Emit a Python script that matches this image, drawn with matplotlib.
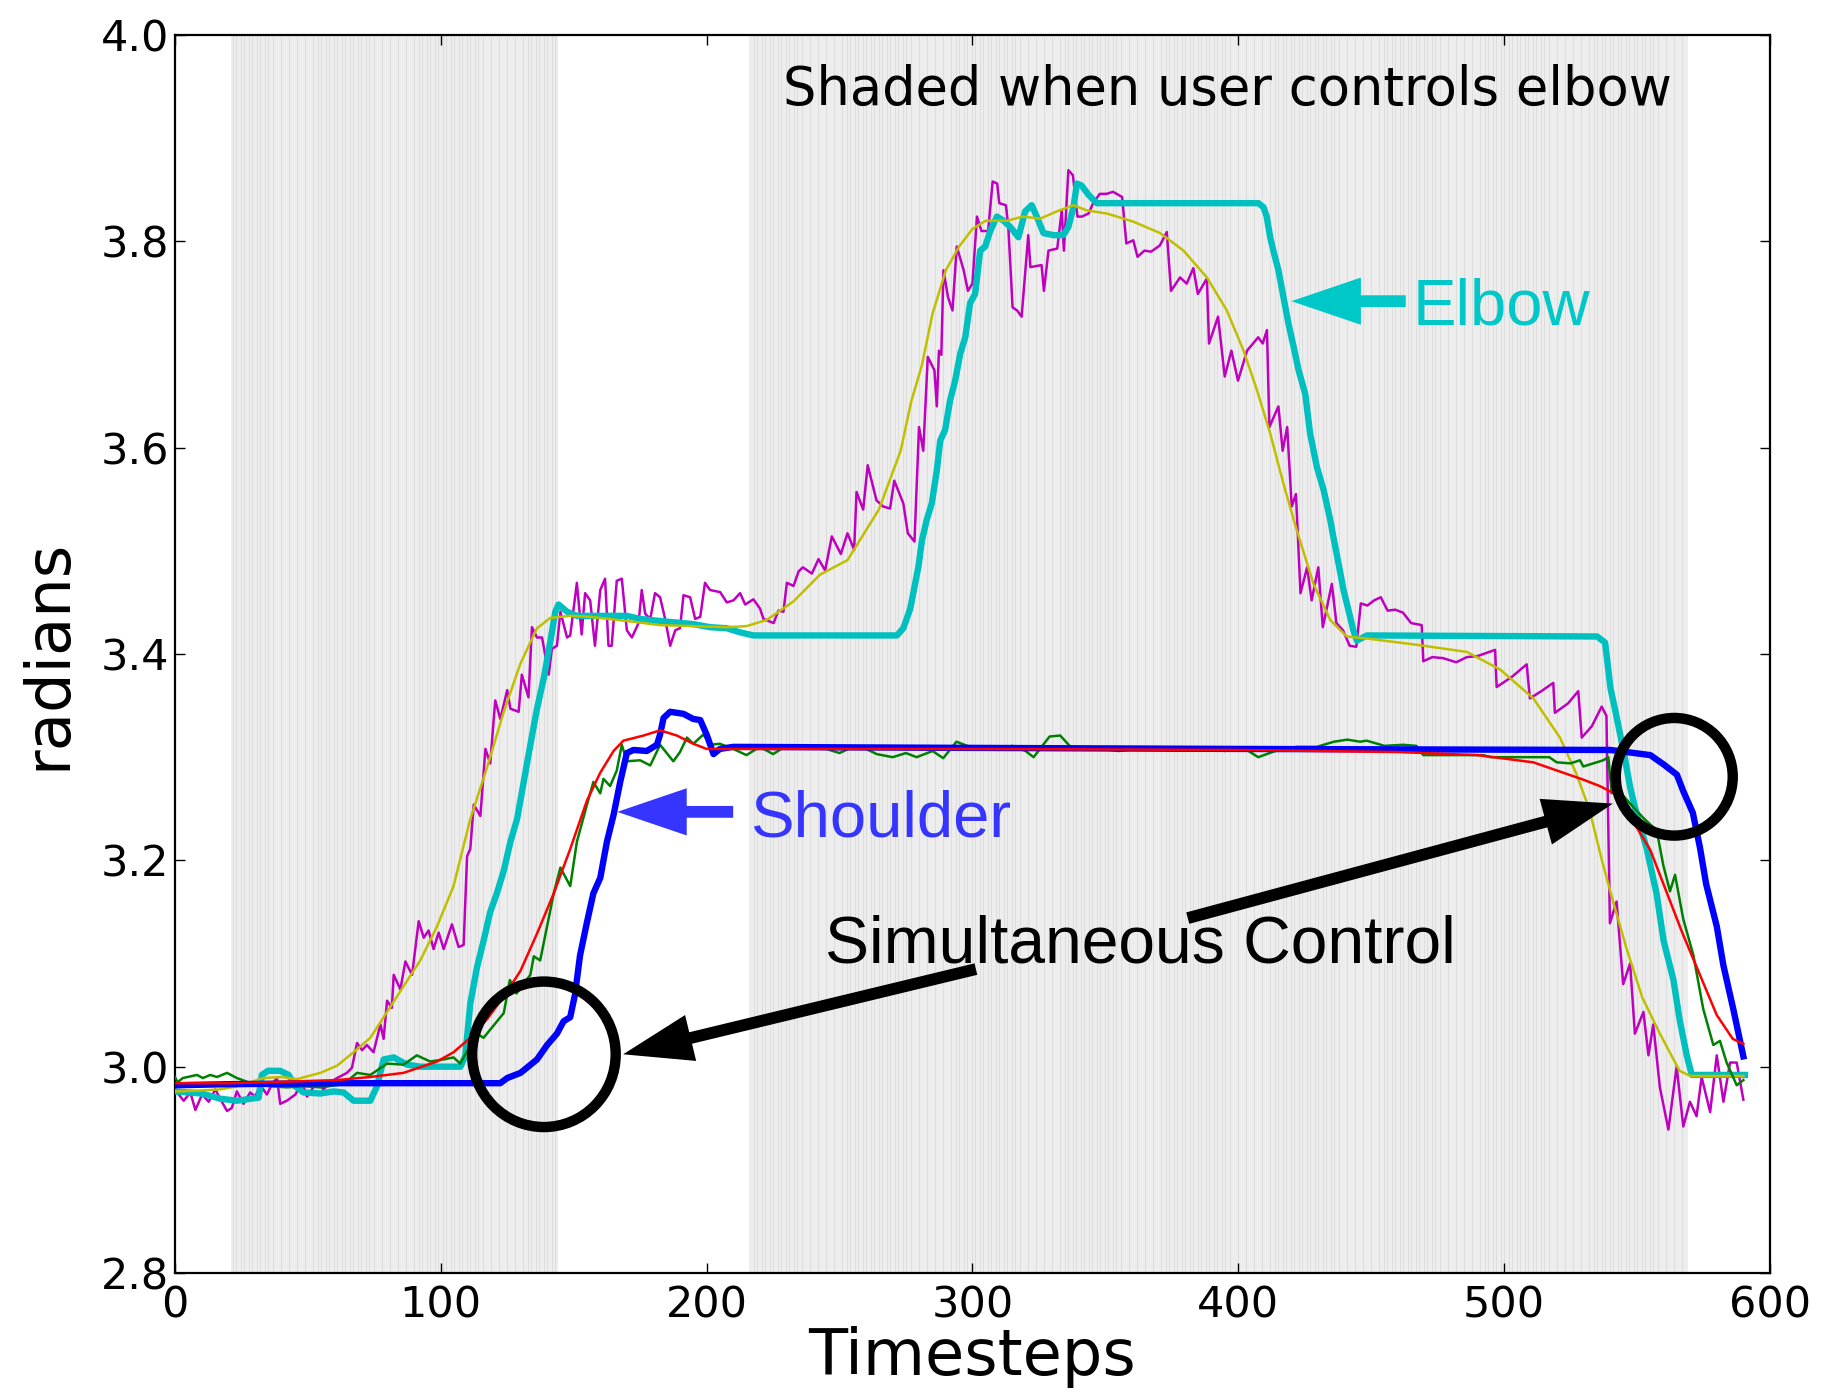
import numpy as np
import matplotlib
matplotlib.use("Agg")
import matplotlib.pyplot as plt
from matplotlib.patches import FancyArrowPatch, Ellipse

# timesteps where the user controls the elbow (shaded)
shade_start = [21, 216]
shade_end = [144, 569]

# elbow, noisy measured (magenta)
elbow_noisy_t = [0.8, 3.3, 5.8, 7.7, 10.2, 12.7, 15.2, 17, 19.6, 21.4, 23.3, 25.8, 28.3, 30.2, 32.1, 34.6, 36.5, 38.4, 39.6, 42.1,
                 45.3, 47.8, 49.7, 53.4, 55.9, 58.4, 61, 64.7, 66.6, 68.5, 70.4, 72.2, 74.7, 77.3, 78.5, 79.8, 81.6, 82.3, 84.8, 86.7,
                 89.2, 91.7, 93.6, 95.4, 97.3, 99.2, 101.1, 104.2, 106.7, 108.6, 109.9, 111.1, 112.4, 114.9, 116.8, 118.6, 120.5, 122.4, 125, 126.2,
                 129.3, 130.5, 133, 134.3, 136.2, 138.1, 140.6, 141.8, 143.7, 145, 147.5, 148.7, 151.2, 153, 154.3, 156.2, 158, 160, 161.8, 163.1,
                 164.3, 166.2, 168.1, 170, 171.9, 174.4, 175.6, 176.9, 178.8, 180.6, 182.5, 184.4, 186.3, 188.2, 190, 191.3, 193.8, 195.7, 197.6, 199.4,
                 201.3, 205.1, 207.6, 210.1, 212.6, 214.5, 217.6, 220.1, 221.4, 225.2, 227, 228.9, 230.2, 232.7, 234.6, 236.2, 239.6, 242.1, 244.6, 247.1,
                 250.5, 253, 255.5, 256.4, 258.9, 260.6, 263.9, 266.4, 269, 270.6, 274, 275.7, 278.2, 279.9, 281.5, 283.2, 285.7, 286.6, 287.4, 288.3,
                 289.1, 290.8, 292.5, 294.1, 296.7, 298.3, 300, 301.7, 303.4, 305.9, 307.6, 309.3, 310.1, 312.6, 313.5, 315.1, 316.8, 318.5, 321, 321.8,
                 326, 326.9, 328.6, 331.9, 333.6, 334.4, 336.1, 337.8, 339.5, 341.2, 343.7, 345.4, 347.9, 350.4, 352.9, 356.3, 357.9, 360.5, 362.1, 364.7,
                 367.2, 370.5, 373.1, 374.7, 378.1, 380.6, 383.1, 384.8, 388.2, 389, 392.4, 394.9, 397.4, 399.9, 403.3, 407.5, 409.2, 410.8, 411.7, 415.1,
                 416.7, 418.4, 420.1, 421.7, 423.4, 425.9, 427.6, 430.1, 431.8, 435.2, 436.9, 439.4, 441.9, 444.4, 446.1, 448.6, 451.1, 453.6, 456.2, 459,
                 462, 465, 469, 469.6, 473, 477, 482, 486, 490, 496.6, 497.2, 503, 508.5, 509.7, 514, 518.5, 519.1, 524, 527.9, 529.2,
                 533, 536.7, 538.5, 539.8, 542.3, 544.8, 547.4, 549.2, 552.4, 554.3, 556.1, 558.6, 561.8, 564.9, 567.4, 569.9, 572.4, 574.3, 577.5, 580,
                 582.5, 585, 587.5, 590]
elbow_noisy = [2.975, 2.967, 2.975, 2.958, 2.973, 2.966, 2.978, 2.969, 2.957, 2.96, 2.976, 2.964, 2.975, 2.971, 2.982, 2.973, 2.983, 2.989, 2.964, 2.967,
               2.973, 2.985, 2.971, 2.985, 2.978, 2.985, 2.989, 2.994, 2.999, 3.023, 3.016, 3.021, 3.014, 3.041, 3.027, 3.064, 3.057, 3.089, 3.075, 3.102,
               3.089, 3.141, 3.125, 3.132, 3.114, 3.13, 3.114, 3.138, 3.116, 3.118, 3.204, 3.211, 3.254, 3.243, 3.308, 3.294, 3.355, 3.337, 3.365, 3.347,
               3.344, 3.38, 3.358, 3.426, 3.416, 3.416, 3.38, 3.405, 3.408, 3.441, 3.416, 3.418, 3.469, 3.419, 3.459, 3.452, 3.408, 3.462, 3.473, 3.408,
               3.408, 3.471, 3.473, 3.423, 3.416, 3.43, 3.462, 3.439, 3.434, 3.459, 3.455, 3.434, 3.408, 3.423, 3.425, 3.457, 3.455, 3.434, 3.436, 3.469,
               3.462, 3.46, 3.45, 3.452, 3.459, 3.448, 3.453, 3.444, 3.434, 3.43, 3.442, 3.441, 3.469, 3.466, 3.48, 3.484, 3.478, 3.492, 3.481, 3.514,
               3.497, 3.517, 3.501, 3.557, 3.54, 3.583, 3.549, 3.543, 3.541, 3.568, 3.546, 3.517, 3.509, 3.62, 3.597, 3.688, 3.675, 3.64, 3.694, 3.69,
               3.772, 3.746, 3.733, 3.795, 3.772, 3.752, 3.759, 3.824, 3.81, 3.81, 3.858, 3.856, 3.837, 3.835, 3.814, 3.736, 3.733, 3.727, 3.806, 3.775,
               3.777, 3.752, 3.791, 3.793, 3.83, 3.791, 3.869, 3.864, 3.824, 3.824, 3.827, 3.837, 3.846, 3.846, 3.848, 3.843, 3.798, 3.801, 3.785, 3.791,
               3.79, 3.796, 3.809, 3.752, 3.765, 3.759, 3.774, 3.749, 3.764, 3.701, 3.727, 3.669, 3.694, 3.665, 3.694, 3.707, 3.701, 3.714, 3.62, 3.64,
               3.597, 3.62, 3.543, 3.555, 3.459, 3.484, 3.452, 3.484, 3.426, 3.468, 3.43, 3.423, 3.408, 3.407, 3.449, 3.447, 3.452, 3.455, 3.442, 3.443,
               3.44, 3.43, 3.428, 3.393, 3.397, 3.396, 3.392, 3.397, 3.398, 3.404, 3.368, 3.378, 3.39, 3.357, 3.364, 3.372, 3.343, 3.352, 3.364, 3.319,
               3.33, 3.349, 3.34, 3.139, 3.16, 3.08, 3.1, 3.032, 3.053, 3.011, 3.041, 2.98, 2.939, 3.0, 2.942, 2.966, 2.952, 2.99, 2.956, 3.011,
               2.966, 3.004, 3.004, 2.968]

# elbow, actual (cyan)
elbow_t = [0, 10, 17, 23.3, 31.5, 32.7, 35, 39.6, 42.8, 45.3, 48.4, 54.7, 59.7, 63.5, 67.2, 73.5, 76, 78.5, 82.3, 87.3,
           92.3, 98.6, 107.4, 109.2, 111.1, 113.6, 116.1, 118.6, 121.1, 123.7, 126.2, 128.7, 131.2, 133.7, 136.2, 138.7, 141.2, 143.1, 144.3, 147.5,
           151.2, 170, 175, 182.5, 195, 201.3, 207.6, 212.6, 217.6, 245, 271.6, 274, 276.6, 278.5, 279.7, 281, 282.8, 284.7, 286.6, 287.9,
           289.7, 291.6, 293.5, 295.4, 297.3, 299.1, 301, 302.9, 304.8, 306.7, 309.2, 311.7, 314.2, 317.3, 319.8, 322.3, 324.2, 326.7, 330.5, 334.2,
           336.1, 338, 339.3, 341.1, 343.7, 346.8, 407.6, 409.5, 410.7, 412, 413.2, 415.1, 417, 418.9, 420.8, 422.7, 425.2, 427, 429.6, 432.1,
           434.6, 435.8, 437.7, 439.6, 441.5, 443.3, 444.6, 448.4, 535, 538, 540, 542, 545, 547.4, 550, 553.6, 557.4, 560, 563.7, 566,
           568.7, 570.6, 590.6]
elbow = [2.976, 2.974, 2.969, 2.967, 2.97, 2.992, 2.996, 2.996, 2.992, 2.981, 2.975, 2.974, 2.976, 2.975, 2.967, 2.967, 2.981, 3.007, 3.009, 3.002,
         3.0, 3.0, 3.0, 3.01, 3.061, 3.096, 3.122, 3.15, 3.168, 3.19, 3.218, 3.24, 3.276, 3.312, 3.347, 3.376, 3.412, 3.441, 3.448, 3.441,
         3.437, 3.437, 3.434, 3.432, 3.429, 3.426, 3.425, 3.421, 3.418, 3.418, 3.418, 3.425, 3.444, 3.469, 3.485, 3.51, 3.53, 3.546, 3.578, 3.607,
         3.617, 3.646, 3.665, 3.691, 3.707, 3.74, 3.749, 3.791, 3.795, 3.81, 3.824, 3.82, 3.814, 3.804, 3.829, 3.835, 3.824, 3.808, 3.806, 3.806,
         3.814, 3.833, 3.856, 3.854, 3.845, 3.837, 3.837, 3.833, 3.824, 3.804, 3.791, 3.772, 3.746, 3.72, 3.698, 3.675, 3.652, 3.614, 3.581, 3.559,
         3.53, 3.513, 3.488, 3.462, 3.442, 3.423, 3.413, 3.418, 3.417, 3.411, 3.367, 3.343, 3.305, 3.271, 3.243, 3.212, 3.167, 3.122, 3.084, 3.046,
         3.011, 2.992, 2.992]

# elbow, smoothed target (yellow)
elbow_target_t = [0, 10, 17, 23.3, 33.4, 40, 46, 54.7, 61, 67.2, 73.5, 79.8, 86, 92.3, 98.6, 104.8, 111.1, 117.4, 123.7, 130,
                  136.2, 141.2, 148.7, 156.3, 170, 182.5, 195, 207.6, 215, 222.6, 232.7, 242.7, 253, 264.8, 273, 277, 281, 285, 290, 295,
                  300, 305, 313, 319, 325.5, 331.7, 338, 343, 350.5, 360.6, 370.6, 379.4, 388.2, 395.7, 402, 407, 412, 417, 422, 428.3,
                  434.6, 440.8, 448.4, 467, 486, 498.5, 511, 521, 527, 532, 537, 541, 546, 552, 558.6, 566, 570, 590]
elbow_target = [2.976, 2.977, 2.978, 2.981, 2.989, 2.99, 2.988, 2.994, 3.001, 3.014, 3.028, 3.053, 3.078, 3.103, 3.136, 3.175, 3.24, 3.29, 3.344, 3.391,
                3.425, 3.435, 3.437, 3.436, 3.432, 3.428, 3.427, 3.426, 3.427, 3.433, 3.451, 3.477, 3.491, 3.54, 3.597, 3.645, 3.68, 3.73, 3.772, 3.795,
                3.812, 3.82, 3.82, 3.824, 3.822, 3.829, 3.835, 3.83, 3.827, 3.819, 3.808, 3.791, 3.765, 3.733, 3.694, 3.656, 3.614, 3.565, 3.52, 3.468,
                3.433, 3.417, 3.415, 3.409, 3.402, 3.385, 3.357, 3.319, 3.285, 3.25, 3.198, 3.16, 3.115, 3.067, 3.032, 2.996, 2.991, 2.991]

# shoulder, noisy measured (green)
shoulder_noisy_t = [0, 1, 3, 8.3, 10.5, 13.3, 15.8, 19.6, 23.3, 29.6, 35.9, 42.1, 48.4, 54.7, 63.5, 68.5, 73.5, 79.8, 86, 91,
                    96, 101, 104.8, 107.3, 113.6, 116.1, 123.7, 126, 128.5, 133.7, 135, 137.4, 140, 142.5, 145, 148.7, 151.2, 155, 157.4, 160,
                    161.2, 163.7, 166.2, 168.1, 170, 175, 178.8, 182.5, 187.5, 190, 192.6, 195, 198.8, 201.3, 205, 210, 215, 220, 225, 230,
                    235, 240, 245, 250, 255, 260, 264, 270, 275, 279, 285, 289, 294, 300, 305, 310, 315, 320, 323, 329,
                    333, 338, 345, 355, 365, 375, 385, 395, 402, 407.5, 415, 422, 429.5, 436, 441, 445.8, 448.3, 455, 462, 467,
                    469.6, 480, 492, 495, 505, 517, 519.8, 525, 528.5, 529.8, 537.3, 539.2, 540.5, 542.3, 547.4, 552.4, 557.4, 559.9, 562.4, 564.3,
                    567.4, 571.2, 574.9, 578.7, 581.2, 583.7, 587.5, 590]
shoulder_noisy = [2.99, 2.985, 2.989, 2.992, 2.989, 2.992, 2.99, 2.994, 2.989, 2.983, 2.981, 2.98, 2.981, 2.98, 2.983, 2.994, 2.992, 3.003, 3.002, 3.011,
                  3.005, 3.007, 3.009, 3.003, 3.032, 3.028, 3.052, 3.084, 3.071, 3.089, 3.107, 3.103, 3.136, 3.168, 3.193, 3.175, 3.218, 3.254, 3.276, 3.265,
                  3.279, 3.272, 3.287, 3.312, 3.296, 3.297, 3.292, 3.312, 3.296, 3.305, 3.319, 3.313, 3.322, 3.312, 3.313, 3.308, 3.302, 3.31, 3.303, 3.311,
                  3.309, 3.31, 3.308, 3.304, 3.31, 3.308, 3.303, 3.3, 3.304, 3.3, 3.306, 3.299, 3.315, 3.309, 3.31, 3.307, 3.311, 3.306, 3.3, 3.32,
                  3.321, 3.307, 3.309, 3.306, 3.309, 3.307, 3.309, 3.306, 3.309, 3.3, 3.307, 3.31, 3.31, 3.315, 3.317, 3.315, 3.316, 3.311, 3.312, 3.311,
                  3.302, 3.302, 3.302, 3.3, 3.3, 3.3, 3.295, 3.294, 3.297, 3.291, 3.297, 3.3, 3.265, 3.27, 3.255, 3.241, 3.229, 3.195, 3.17, 3.186,
                  3.143, 3.108, 3.056, 3.021, 3.025, 3.004, 2.982, 2.987]

# shoulder, smoothed target (red)
shoulder_target_t = [0, 20, 35.9, 61, 73.5, 86, 98.6, 104.8, 111.1, 117.4, 123.7, 130, 136.2, 142.5, 148.7, 155, 160, 165, 168.7, 176.3,
                     182.5, 188.8, 195, 200, 220, 300, 400, 460, 490, 511, 530, 536, 542, 548, 555, 567, 580, 586, 590]
shoulder_target = [2.984, 2.984, 2.985, 2.987, 2.99, 2.994, 3.005, 3.014, 3.028, 3.046, 3.068, 3.093, 3.129, 3.168, 3.211, 3.258, 3.285, 3.306, 3.316, 3.321,
                   3.326, 3.321, 3.313, 3.308, 3.308, 3.308, 3.307, 3.305, 3.302, 3.295, 3.278, 3.272, 3.264, 3.24, 3.21, 3.13, 3.05, 3.027, 3.022]

# shoulder, actual (blue)
shoulder_t = [0, 20, 60, 122.4, 125, 130, 132.4, 136.2, 140, 143.7, 146.2, 148.7, 150.5, 152.4, 155, 157.4, 160, 162.5, 165, 167.5,
              170, 172.5, 177.5, 181.3, 182.5, 183.8, 186.3, 191.3, 195, 197.6, 200, 202.6, 205, 210, 300, 400, 540, 555, 560, 565,
              567.4, 571, 573.7, 576, 580, 582.5, 586.2, 590]
shoulder = [2.982, 2.983, 2.984, 2.984, 2.989, 2.994, 2.999, 3.007, 3.021, 3.032, 3.044, 3.048, 3.07, 3.108, 3.14, 3.168, 3.183, 3.218, 3.244, 3.276,
            3.304, 3.307, 3.306, 3.312, 3.322, 3.338, 3.344, 3.342, 3.337, 3.336, 3.322, 3.303, 3.308, 3.31, 3.309, 3.308, 3.307, 3.302, 3.293, 3.283,
            3.267, 3.246, 3.212, 3.177, 3.136, 3.098, 3.056, 3.01]

fig = plt.figure(figsize=(18.26, 14), dpi=100)
ax = fig.add_axes([0.0958, 0.0907, 0.8735, 0.8843])

# shading, one slightly overlapping span per timestep (gives the faint stripes)
for s, e in zip(shade_start, shade_end):
    for t in range(s, e):
        ax.axvspan(t, t + 1.2, facecolor='0.5', alpha=0.14, lw=0, zorder=0)

ax.plot(elbow_noisy_t, elbow_noisy, color='m', lw=1.8, zorder=2)
ax.plot(elbow_t, elbow, color='c', lw=4.6, zorder=3)
ax.plot(elbow_target_t, elbow_target, color='y', lw=1.8, zorder=4)
ax.plot(shoulder_noisy_t, shoulder_noisy, color='g', lw=1.8, zorder=5)
ax.plot(shoulder_t, shoulder, color='b', lw=4.6, zorder=6)
ax.plot(shoulder_target_t, shoulder_target, color='r', lw=1.8, zorder=7)

ax.set_xlim(0, 600)
ax.set_ylim(2.8, 4.0)
ax.set_xticks(np.arange(0, 601, 100))
ax.set_yticks(np.arange(2.8, 4.01, 0.2))
ax.set_yticklabels(['2.8', '3.0', '3.2', '3.4', '3.6', '3.8', '4.0'])
ax.tick_params(direction='in', top=True, right=True, length=7, width=1, labelsize=31)
ax.tick_params(axis='x', pad=8)
ax.tick_params(axis='y', pad=4)
for sp in ax.spines.values():
    sp.set_linewidth(1.6)

ax.set_xlabel('Timesteps', fontsize=46, labelpad=0)
ax.set_ylabel('radians', fontsize=45, labelpad=16)

ann_font = 'Liberation Sans'
elbow_col = '#00c8c8'
shoulder_col = '#3535ff'
arrow_style = 'simple,head_length=50,head_width=34,tail_width=8.5'

ax.text(228.6, 3.932, 'Shaded when user controls elbow', fontsize=38, zorder=10)

ax.text(465.5, 3.719, 'Elbow', fontsize=47, color=elbow_col, family=ann_font, zorder=10)
ax.add_patch(FancyArrowPatch((463, 3.742), (420, 3.742), arrowstyle=arrow_style,
                             mutation_scale=1, lw=0, color=elbow_col, shrinkA=0, shrinkB=0, zorder=10))

ax.text(216.8, 3.2233, 'Shoulder', fontsize=47, color=shoulder_col, family=ann_font, zorder=10)
ax.add_patch(FancyArrowPatch((210, 3.247), (166.4, 3.247), arrowstyle=arrow_style,
                             mutation_scale=1, lw=0, color=shoulder_col, shrinkA=0, shrinkB=0, zorder=10))

ax.text(244.4, 3.101, 'Simultaneous Control', fontsize=47.5, color='k', family=ann_font, zorder=10)
ax.add_patch(FancyArrowPatch((301.3, 3.0946), (168.6, 3.012), arrowstyle=arrow_style,
                             mutation_scale=1, lw=0, color='k', shrinkA=0, shrinkB=0, zorder=10))
ax.add_patch(FancyArrowPatch((381, 3.144), (540.9, 3.255), arrowstyle=arrow_style,
                             mutation_scale=1, lw=0, color='k', shrinkA=0, shrinkB=0, zorder=10))

ax.add_patch(Ellipse((138.8, 3.012), 54, 0.141, fill=False, lw=7.5, ec='k', zorder=11))
ax.add_patch(Ellipse((564, 3.281), 44, 0.114, fill=False, lw=7.5, ec='k', zorder=11))

fig.savefig('out.png', dpi=100)
